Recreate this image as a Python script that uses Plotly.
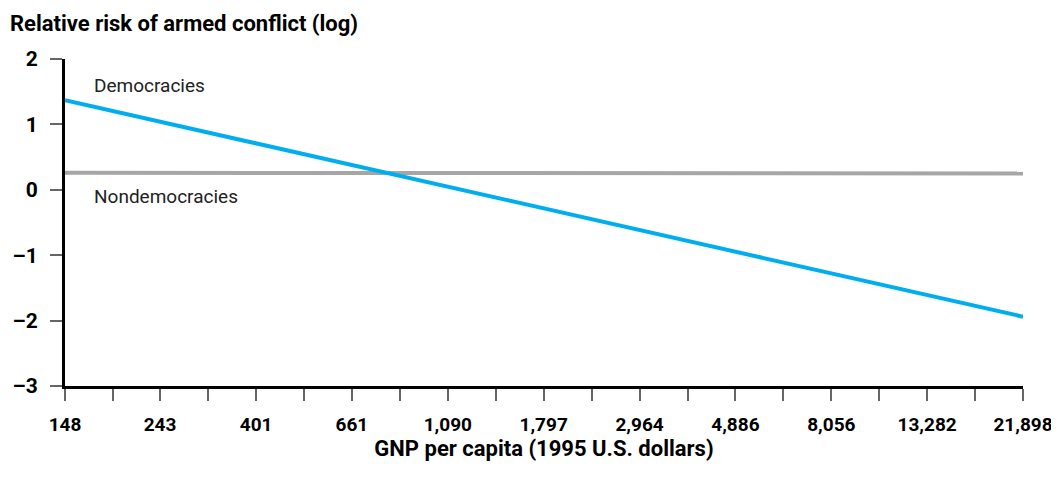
import math
import plotly.graph_objects as go

gnp_ticks = [148, 243, 401, 661, 1090, 1797, 2964, 4886, 8056, 13282, 21898]
gnp_labels = ["148", "243", "401", "661", "1,090", "1,797", "2,964", "4,886", "8,056", "13,282", "21,898"]
risk_ticks = [-3, -2, -1, 0, 1, 2]
risk_labels = ["\u20133", "\u20132", "\u20131", "0", "1", "2"]

gnp_ends = [148, 21898]
democracies = [1.37, -1.94]
nondemocracies = [0.26, 0.25]

FONT = "Roboto, Arial"

# unlabeled ticks halfway (on the log scale) between labeled ones
minor_vals = [math.sqrt(a * b) for a, b in zip(gnp_ticks[:-1], gnp_ticks[1:])]

fig = go.Figure()
fig.add_trace(go.Scatter(
    x=gnp_ends, y=nondemocracies, mode="lines",
    line=dict(color="#A6A6A6", width=4), cliponaxis=False, showlegend=False,
))
fig.add_trace(go.Scatter(
    x=gnp_ends, y=democracies, mode="lines",
    line=dict(color="#00AEEF", width=4), cliponaxis=False, showlegend=False,
))

fig.add_annotation(x=math.log10(170), y=1.6, text="Democracies", showarrow=False,
                   xanchor="left", font=dict(family=FONT, size=19, color="#222"))
fig.add_annotation(x=math.log10(170), y=-0.11, text="Nondemocracies", showarrow=False,
                   xanchor="left", font=dict(family=FONT, size=19, color="#222"))
fig.add_annotation(
    text="Relative risk of armed conflict (log)", xref="paper", yref="paper",
    x=-57 / 958, y=1 + 36 / 327, xanchor="left", yanchor="middle", showarrow=False,
    font=dict(family=FONT, size=22, color="black", weight="bold"),
)

fig.update_xaxes(
    type="log", range=[math.log10(148), math.log10(21898)],
    tickvals=gnp_ticks, ticktext=gnp_labels,
    ticks="outside", ticklen=12, tickwidth=1.5, tickcolor="#666",
    minor=dict(tickvals=minor_vals, ticks="outside", ticklen=12, tickwidth=1.5, tickcolor="#666"),
    ticklabelstandoff=7,
    showline=True, linecolor="black", linewidth=3,
    showgrid=False, zeroline=False, automargin=False,
    tickfont=dict(family=FONT, size=19, color="black", weight="bold"),
    title=dict(text="GNP per capita (1995 U.S. dollars)", standoff=4,
               font=dict(family=FONT, size=22, color="black", weight="bold")),
)
fig.update_yaxes(
    range=[-3, 2], tickvals=risk_ticks, ticktext=risk_labels,
    ticks="outside", ticklen=12, tickwidth=1.5, tickcolor="#666",
    ticklabelstandoff=8,
    showline=True, linecolor="black", linewidth=3,
    showgrid=False, zeroline=False, automargin=False,
    tickfont=dict(family=FONT, size=21, color="black", weight="bold"),
)

# the page body adds an 8px offset, so the figure is 8px smaller on each side
fig.update_layout(
    width=1051, height=479,
    margin=dict(l=57, r=36, t=51, b=101),
    plot_bgcolor="white", paper_bgcolor="white",
)

fig.write_html("out.html")
